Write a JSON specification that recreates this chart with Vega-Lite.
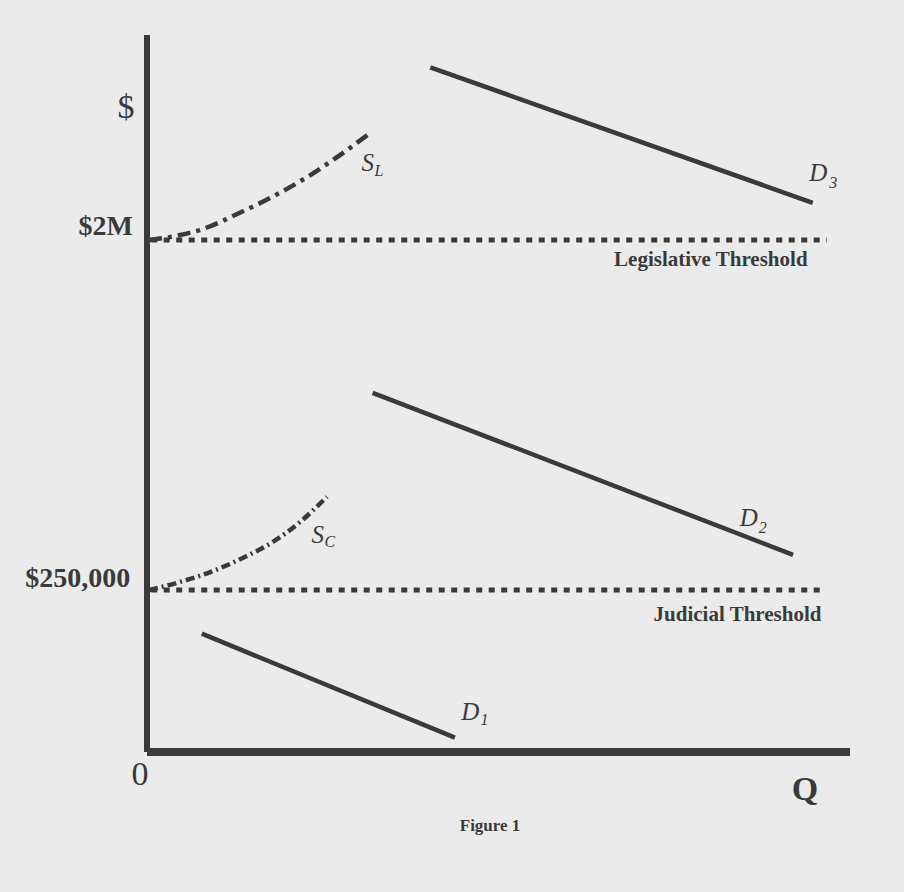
{
  "$schema": "https://vega.github.io/schema/vega-lite/v6.json",
  "width": 703,
  "height": 717,
  "autosize": {"type": "none"},
  "padding": {"left": 147, "top": 35, "right": 54, "bottom": 140},
  "background": "#ebebeb",
  "config": {"view": {"stroke": null}},
  "datasets": {
    "axes": [
      {"name": "price", "q": 0, "p": 0, "q2": 0, "p2": 100},
      {"name": "quantity", "q": 0, "p": 0, "q2": 100, "p2": 0}
    ],
    "curves": [
      {"s": "D3", "o": 1, "q": 40.3, "p": 95.5},
      {"s": "D3", "o": 2, "q": 94.7, "p": 76.6},
      {"s": "D2", "o": 1, "q": 32.1, "p": 50.1},
      {"s": "D2", "o": 2, "q": 91.9, "p": 27.5},
      {"s": "D1", "o": 1, "q": 7.8, "p": 16.5},
      {"s": "D1", "o": 2, "q": 43.8, "p": 2.0},
      {"s": "LEG", "o": 1, "q": 0.6, "p": 71.4},
      {"s": "LEG", "o": 2, "q": 96.7, "p": 71.4},
      {"s": "JUD", "o": 1, "q": 0.6, "p": 22.6},
      {"s": "JUD", "o": 2, "q": 95.7, "p": 22.6},
      {"s": "SL", "o": 1, "q": 0.3, "p": 71.4},
      {"s": "SL", "o": 2, "q": 4.7, "p": 72.1},
      {"s": "SL", "o": 3, "q": 7.5, "p": 72.8},
      {"s": "SL", "o": 4, "q": 13.2, "p": 75.2},
      {"s": "SL", "o": 5, "q": 18.9, "p": 78.0},
      {"s": "SL", "o": 6, "q": 22.8, "p": 80.2},
      {"s": "SL", "o": 7, "q": 26.5, "p": 82.6},
      {"s": "SL", "o": 8, "q": 31.7, "p": 86.3},
      {"s": "SC", "o": 1, "q": 0.3, "p": 22.6},
      {"s": "SC", "o": 2, "q": 4.3, "p": 23.6},
      {"s": "SC", "o": 3, "q": 9.0, "p": 25.1},
      {"s": "SC", "o": 4, "q": 13.7, "p": 27.1},
      {"s": "SC", "o": 5, "q": 17.9, "p": 29.3},
      {"s": "SC", "o": 6, "q": 21.8, "p": 32.1},
      {"s": "SC", "o": 7, "q": 25.6, "p": 35.6}
    ],
    "bigLabels": [
      {"t": "$", "q": -3.0, "p": 89.8},
      {"t": "0", "q": -1.0, "p": -3.2}
    ],
    "priceLabels": [
      {"t": "$2M", "q": -2.0, "p": 72.1},
      {"t": "$250,000", "q": -2.4, "p": 23.0}
    ],
    "thresholdLabels": [
      {"t": "Legislative Threshold", "q": 80.2, "p": 68.6},
      {"t": "Judicial Threshold", "q": 84.0, "p": 19.1}
    ],
    "curveNames": [
      {"t": "S", "q": 31.4, "p": 82.1},
      {"t": "S", "q": 24.3, "p": 30.3},
      {"t": "D", "q": 95.5, "p": 80.8},
      {"t": "D", "q": 85.6, "p": 32.6},
      {"t": "D", "q": 46.0, "p": 5.6}
    ],
    "subscripts": [
      {"t": "L", "q": 33.0, "p": 81.0},
      {"t": "C", "q": 26.0, "p": 29.3},
      {"t": "3", "q": 97.6, "p": 79.4},
      {"t": "2", "q": 87.6, "p": 31.3},
      {"t": "1", "q": 48.0, "p": 4.4}
    ]
  },
  "layer": [
    {
      "data": {"name": "curves"},
      "transform": [{"filter": "datum.s === 'LEG' || datum.s === 'JUD'"}],
      "mark": {"type": "line", "color": "#3a3a3a", "strokeWidth": 5, "strokeDash": [6, 6.5], "strokeCap": "butt"},
      "encoding": {
        "x": {"field": "q", "type": "quantitative", "scale": {"domain": [0, 100]}, "axis": null},
        "y": {"field": "p", "type": "quantitative", "scale": {"domain": [0, 100]}, "axis": null},
        "detail": {"field": "s"},
        "order": {"field": "o"}
      }
    },
    {
      "data": {"name": "curves"},
      "transform": [{"filter": "datum.s === 'D1' || datum.s === 'D2' || datum.s === 'D3'"}],
      "mark": {"type": "line", "color": "#3a3a3a", "strokeWidth": 4.5, "strokeCap": "butt"},
      "encoding": {
        "x": {"field": "q", "type": "quantitative"},
        "y": {"field": "p", "type": "quantitative"},
        "detail": {"field": "s"},
        "order": {"field": "o"}
      }
    },
    {
      "data": {"name": "curves"},
      "transform": [{"filter": "datum.s === 'SL'"}],
      "mark": {"type": "line", "color": "#3a3a3a", "strokeWidth": 4.5, "strokeDash": [13, 6, 4, 6], "interpolate": "monotone", "strokeCap": "butt"},
      "encoding": {
        "x": {"field": "q", "type": "quantitative"},
        "y": {"field": "p", "type": "quantitative"},
        "order": {"field": "o"}
      }
    },
    {
      "data": {"name": "curves"},
      "transform": [{"filter": "datum.s === 'SC'"}],
      "mark": {"type": "line", "color": "#3a3a3a", "strokeWidth": 4.5, "strokeDash": [9, 4, 2, 4], "interpolate": "monotone", "strokeCap": "butt"},
      "encoding": {
        "x": {"field": "q", "type": "quantitative"},
        "y": {"field": "p", "type": "quantitative"},
        "order": {"field": "o"}
      }
    },
    {
      "data": {"name": "axes"},
      "transform": [{"filter": "datum.name === 'price'"}],
      "mark": {"type": "rule", "color": "#3a3a3a", "strokeWidth": 6},
      "encoding": {
        "x": {"field": "q", "type": "quantitative"},
        "y": {"field": "p", "type": "quantitative"},
        "x2": {"field": "q2"},
        "y2": {"field": "p2"}
      }
    },
    {
      "data": {"name": "axes"},
      "transform": [{"filter": "datum.name === 'quantity'"}],
      "mark": {"type": "rule", "color": "#3a3a3a", "strokeWidth": 8},
      "encoding": {
        "x": {"field": "q", "type": "quantitative"},
        "y": {"field": "p", "type": "quantitative"},
        "x2": {"field": "q2"},
        "y2": {"field": "p2"}
      }
    },
    {
      "data": {"name": "bigLabels"},
      "mark": {"type": "text", "font": "Liberation Serif", "fontSize": 34, "color": "#3a3a3a", "baseline": "middle", "align": "center"},
      "encoding": {
        "x": {"field": "q", "type": "quantitative"},
        "y": {"field": "p", "type": "quantitative"},
        "text": {"field": "t"}
      }
    },
    {
      "data": {"values": [{"t": "Q", "q": 93.6, "p": -5.3}]},
      "mark": {"type": "text", "font": "Liberation Serif", "fontSize": 34, "fontWeight": "bold", "color": "#3a3a3a", "baseline": "middle", "align": "center"},
      "encoding": {
        "x": {"field": "q", "type": "quantitative"},
        "y": {"field": "p", "type": "quantitative"},
        "text": {"field": "t"}
      }
    },
    {
      "data": {"name": "priceLabels"},
      "mark": {"type": "text", "font": "Liberation Serif", "fontSize": 28, "fontWeight": "bold", "color": "#3a3a3a", "baseline": "alphabetic", "align": "right"},
      "encoding": {
        "x": {"field": "q", "type": "quantitative"},
        "y": {"field": "p", "type": "quantitative"},
        "text": {"field": "t"}
      }
    },
    {
      "data": {"name": "thresholdLabels"},
      "mark": {"type": "text", "font": "Liberation Serif", "fontSize": 21, "fontWeight": "bold", "color": "#3a3a3a", "baseline": "middle", "align": "center"},
      "encoding": {
        "x": {"field": "q", "type": "quantitative"},
        "y": {"field": "p", "type": "quantitative"},
        "text": {"field": "t"}
      }
    },
    {
      "data": {"values": [{"t": "Figure 1", "q": 48.8, "p": -10.3}]},
      "mark": {"type": "text", "font": "Liberation Serif", "fontSize": 17, "fontWeight": "bold", "color": "#3a3a3a", "baseline": "middle", "align": "center"},
      "encoding": {
        "x": {"field": "q", "type": "quantitative"},
        "y": {"field": "p", "type": "quantitative"},
        "text": {"field": "t"}
      }
    },
    {
      "data": {"name": "curveNames"},
      "mark": {"type": "text", "font": "Liberation Serif", "fontSize": 25, "fontStyle": "italic", "color": "#3a3a3a", "baseline": "middle", "align": "center"},
      "encoding": {
        "x": {"field": "q", "type": "quantitative"},
        "y": {"field": "p", "type": "quantitative"},
        "text": {"field": "t"}
      }
    },
    {
      "data": {"name": "subscripts"},
      "mark": {"type": "text", "font": "Liberation Serif", "fontSize": 16, "fontStyle": "italic", "color": "#3a3a3a", "baseline": "middle", "align": "center"},
      "encoding": {
        "x": {"field": "q", "type": "quantitative"},
        "y": {"field": "p", "type": "quantitative"},
        "text": {"field": "t"}
      }
    }
  ]
}
